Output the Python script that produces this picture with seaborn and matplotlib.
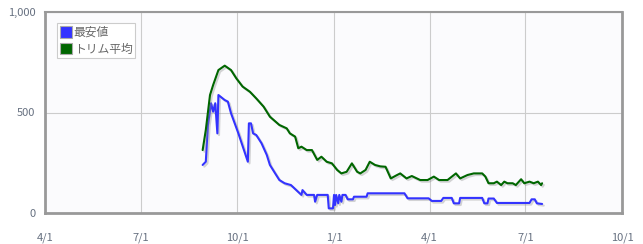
import matplotlib
matplotlib.use("Agg")
import matplotlib.pyplot as plt
import matplotlib.patheffects as pe
from matplotlib.patches import Patch
import seaborn as sns
import pandas as pd

# ---- data ----
green_dates = ["2023-08-29", "2023-09-01", "2023-09-05", "2023-09-08", "2023-09-13", "2023-09-19",
               "2023-09-25", "2023-09-30", "2023-10-06", "2023-10-13", "2023-10-19", "2023-10-26",
               "2023-11-01", "2023-11-10", "2023-11-17", "2023-11-20", "2023-11-25", "2023-11-28",
               "2023-12-01", "2023-12-06", "2023-12-11", "2023-12-16", "2023-12-20", "2023-12-25",
               "2023-12-30", "2024-01-04", "2024-01-08", "2024-01-13", "2024-01-18", "2024-01-23",
               "2024-01-26", "2024-01-31", "2024-02-04", "2024-02-09", "2024-02-14", "2024-02-19",
               "2024-02-24", "2024-03-01", "2024-03-04", "2024-03-10", "2024-03-15", "2024-03-23",
               "2024-03-30", "2024-04-05", "2024-04-10", "2024-04-18", "2024-04-26", "2024-04-30",
               "2024-05-07", "2024-05-13", "2024-05-16", "2024-05-21", "2024-05-24", "2024-05-27",
               "2024-06-01", "2024-06-04", "2024-06-08", "2024-06-11", "2024-06-14", "2024-06-19",
               "2024-06-22", "2024-06-27", "2024-06-30", "2024-07-05", "2024-07-09", "2024-07-13",
               "2024-07-16", "2024-07-17"]
green_values = [313, 413, 587, 637, 711, 733,
                711, 670, 629, 603, 570, 529,
                479, 438, 421, 396, 380, 322,
                330, 313, 313, 264, 280, 255,
                247, 214, 197, 205, 247, 205,
                197, 214, 255, 239, 232, 230,
                172, 189, 197, 172, 184, 164,
                164, 181, 164, 164, 197, 172,
                189, 197, 197, 197, 181, 148,
                148, 156, 139, 156, 148, 148,
                139, 168, 148, 156, 148, 156,
                139, 148]

blue_dates = ["2023-08-29", "2023-09-01", "2023-09-03", "2023-09-06", "2023-09-08", "2023-09-10",
              "2023-09-12", "2023-09-13", "2023-09-19", "2023-09-22", "2023-09-25", "2023-10-02",
              "2023-10-11", "2023-10-12", "2023-10-14", "2023-10-16", "2023-10-19", "2023-10-24",
              "2023-10-29", "2023-11-01", "2023-11-06", "2023-11-10", "2023-11-15", "2023-11-21",
              "2023-12-01", "2023-12-02", "2023-12-06", "2023-12-13", "2023-12-14", "2023-12-16",
              "2023-12-26", "2023-12-27", "2023-12-31", "2024-01-01", "2024-01-02", "2024-01-03",
              "2024-01-05", "2024-01-06", "2024-01-08", "2024-01-09", "2024-01-12", "2024-01-14",
              "2024-01-19", "2024-01-20", "2024-02-01", "2024-02-02", "2024-03-08", "2024-03-11",
              "2024-03-31", "2024-04-03", "2024-04-12", "2024-04-14", "2024-04-22", "2024-04-24",
              "2024-04-29", "2024-04-30", "2024-05-21", "2024-05-23", "2024-05-26", "2024-05-27",
              "2024-06-01", "2024-06-04", "2024-07-05", "2024-07-07", "2024-07-10", "2024-07-12",
              "2024-07-17"]
blue_values = [239, 255, 438, 546, 504, 546,
               396, 587, 562, 554, 496, 396,
               255, 446, 446, 396, 388, 347,
               289, 239, 197, 164, 148, 139,
               90, 114, 90, 90, 56, 90,
               90, 23, 23, 90, 40, 90,
               48, 90, 56, 90, 90, 68,
               68, 81, 81, 98, 98, 73,
               73, 60, 60, 75, 75, 48,
               48, 75, 75, 48, 48, 72,
               72, 50, 50, 68, 68, 48,
               45]

series_names = ["最安値", "トリム平均"]
series_colors = ["#3333ff", "#006600"]
x_start, x_end = "2023-04-01", "2024-10-01"
x_tick_dates = ["2023-04-01", "2023-07-01", "2023-10-01", "2024-01-01",
                "2024-04-01", "2024-07-01", "2024-10-01"]
x_tick_labels = ["4/1", "7/1", "10/1", "1/1", "4/1", "7/1", "10/1"]
y_ticks = [0, 500, 1000]
y_tick_labels = ["0", "500", "1,000"]

# ---- build table ----
df = pd.concat([
    pd.DataFrame({"date": pd.to_datetime(blue_dates), "value": blue_values, "series": series_names[0]}),
    pd.DataFrame({"date": pd.to_datetime(green_dates), "value": green_values, "series": series_names[1]}),
], ignore_index=True)

sns.set_style("white")
plt.rcParams["font.family"] = ["Noto Sans CJK JP", "DejaVu Sans"]

fig = plt.figure(figsize=(6.43, 2.44), dpi=100, facecolor="white")
ax = fig.add_axes([45 / 643, 1 - 213 / 244, (622 - 45) / 643, (213 - 12) / 244])
ax.set_facecolor("#fbfbfd")

shadow = [pe.SimpleLineShadow(offset=(1.2, -1.2), shadow_color="#888888", alpha=0.35), pe.Normal()]
sns.lineplot(data=df, x="date", y="value", hue="series", hue_order=series_names,
             palette=series_colors, linewidth=1.5, ax=ax, sort=False, estimator=None,
             legend=False, zorder=3, path_effects=shadow)

ax.set_xlim(pd.Timestamp(x_start), pd.Timestamp(x_end))
ax.set_ylim(0, 1000)
ax.set_xticks(pd.to_datetime(x_tick_dates))
ax.set_xticklabels(x_tick_labels)
ax.set_yticks(y_ticks)
ax.set_yticklabels(y_tick_labels)
ax.set_xlabel("")
ax.set_ylabel("")

ax.grid(True, color="#cccccc", linewidth=0.8, zorder=0)
ax.set_axisbelow(True)
for s in ax.spines.values():
    s.set_visible(True)
    s.set_color("#999999")
ax.spines["left"].set_linewidth(2.0)
ax.spines["bottom"].set_linewidth(2.0)
ax.spines["right"].set_linewidth(2.0)
ax.spines["top"].set_linewidth(1.5)

ax.tick_params(axis="both", colors="#999999", labelcolor="#667080", labelsize=8,
               length=4, width=1, direction="out", pad=3)
ax.tick_params(axis="x", pad=10)

# legend
handles = [Patch(facecolor=c, edgecolor="#aaaaaa", linewidth=0.8) for c in series_colors]
leg = ax.legend(handles, series_names, loc="upper left", bbox_to_anchor=(0.021, 0.945),
                fontsize=8.5, frameon=True, fancybox=False, framealpha=1,
                edgecolor="#cccccc", handlelength=1.05, handleheight=1.1,
                handletextpad=0.1, borderpad=0.25, labelspacing=0.3, borderaxespad=0)
leg.get_frame().set_linewidth(0.8)
for t in leg.get_texts():
    t.set_color("#666666")

fig.savefig("out.png", dpi=100, facecolor="white")
